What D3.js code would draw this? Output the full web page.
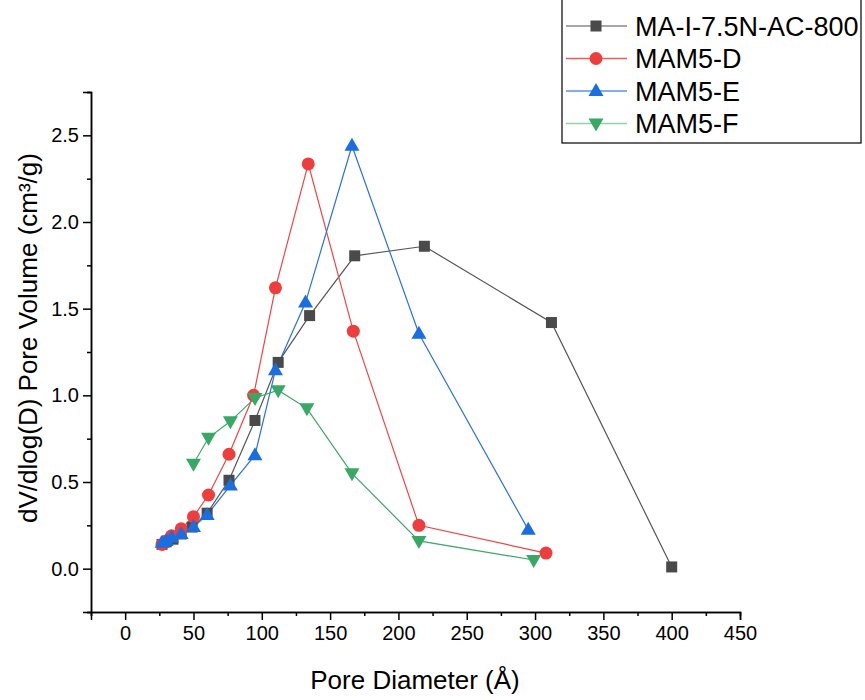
<!DOCTYPE html>
<html><head><meta charset="utf-8">
<script src="https://cdn.jsdelivr.net/npm/d3@7"></script>
<style>body{margin:0;background:#fff}svg text{font-family:"Liberation Sans",Arial,sans-serif}</style>
</head><body><svg id="c" width="865" height="700"></svg>
<script>
const seriesNames = ["MA-I-7.5N-AC-800","MAM5-D","MAM5-E","MAM5-F"];
const xA = [27,30,35,41,49,60,76,95,112,135,168,219,312,400];
const yA = [0.14,0.155,0.17,0.20,0.24,0.32,0.51,0.855,1.19,1.46,1.805,1.86,1.42,0.01];
const xD = [27,30,34,41,50,61,76,94,110,134,167,215,308];
const yD = [0.14,0.16,0.19,0.23,0.30,0.425,0.66,1.0,1.62,2.335,1.37,0.25,0.09];
const xE = [27,30,34,41,50,60,77,95,110,132,166,215,295];
const yE = [0.15,0.16,0.18,0.20,0.24,0.31,0.48,0.655,1.145,1.535,2.44,1.355,0.225];
const xF = [50,61,77,95,112,133,166,215,299];
const yF = [0.605,0.755,0.85,0.985,1.03,0.925,0.55,0.16,0.05];
const xTicks = [0,50,100,150,200,250,300,350,400,450];
const yTicks = [0,0.5,1.0,1.5,2.0,2.5];

const lineColors = ["#555555","#f04545","#2a72dd","#3aa86a"];
const markerColors = ["#4a4a4a","#ef3d3d","#1a6ee0","#37a866"];
const legendLineColors = ["#8a8a8a","#f25a5a","#5a93e6","#8fd3a8"];
const shapes = ["square","circle","up","down"];

const svg = d3.select("#c");
const x = d3.scaleLinear().domain([-25,450]).range([91,740]);
const y = d3.scaleLinear().domain([-0.25,2.75]).range([612,92]);

// axes
const xMinor = d3.range(-25,451,25);
const yMinor = d3.range(-0.25,2.76,0.25);
const gx = svg.append("g").attr("transform","translate(0,612)");
gx.call(d3.axisBottom(x).tickValues(xMinor.filter(v=>!xTicks.includes(v))).tickSize(4).tickFormat(""));
gx.append("g").call(d3.axisBottom(x).tickValues(xTicks).tickSize(8).tickPadding(6).tickFormat(d3.format("d")));
const gy = svg.append("g").attr("transform","translate(91,0)");
gy.call(d3.axisLeft(y).tickValues(yMinor.filter(v=>!yTicks.some(t=>Math.abs(t-v)<1e-6))).tickSize(4).tickFormat(""));
gy.append("g").call(d3.axisLeft(y).tickValues(yTicks).tickSize(8).tickPadding(4).tickFormat(d3.format(".1f")));
svg.selectAll(".domain").attr("stroke","#000").attr("stroke-width",1.5);
svg.selectAll(".tick line").attr("stroke","#000").attr("stroke-width",1.5);
svg.selectAll(".tick text").attr("font-size",20).attr("fill","#000").attr("font-family","Liberation Sans, Arial, sans-serif");

svg.append("text").attr("x",415).attr("y",689).attr("text-anchor","middle").attr("font-size",26).text("Pore Diameter (Å)");
svg.append("text").attr("transform","translate(37,338) rotate(-90)").attr("text-anchor","middle").attr("font-size",26).text("dV/dlog(D) Pore Volume (cm³/g)");

function marker(g, shape, color){
  if(shape==="square") g.append("rect").attr("x",-5.5).attr("y",-5.5).attr("width",11).attr("height",11).attr("fill",color);
  else if(shape==="circle") g.append("circle").attr("r",6.5).attr("fill",color);
  else if(shape==="up") g.append("path").attr("d","M0,-8L7.5,5L-7.5,5Z").attr("fill",color);
  else g.append("path").attr("d","M0,8L7.5,-5L-7.5,-5Z").attr("fill",color);
}

const data = [[xA,yA],[xD,yD],[xE,yE],[xF,yF]];
const line = d3.line().x(d=>x(d[0])).y(d=>y(d[1]));
data.forEach(([xs,ys],i)=>{
  const pts = xs.map((v,j)=>[v,ys[j]]);
  svg.append("path").datum(pts).attr("d",line).attr("fill","none").attr("stroke",lineColors[i]).attr("stroke-width",1.2);
});
data.forEach(([xs,ys],i)=>{
  const pts = xs.map((v,j)=>[v,ys[j]]);
  pts.forEach(p=>{
    const g = svg.append("g").attr("transform",`translate(${x(p[0])},${y(p[1])})`);
    marker(g,shapes[i],markerColors[i]);
  });
});

// legend
const lg = svg.append("g");
lg.append("rect").attr("x",562).attr("y",-1).attr("width",299).attr("height",144).attr("fill","#fff").attr("stroke","#000").attr("stroke-width",1.2);
seriesNames.forEach((n,i)=>{
  const yy = 26 + i*32.5;
  lg.append("line").attr("x1",566).attr("x2",627).attr("y1",yy).attr("y2",yy).attr("stroke",legendLineColors[i]).attr("stroke-width",1.5);
  const g = lg.append("g").attr("transform",`translate(596,${yy})`);
  marker(g,shapes[i],markerColors[i]);
  lg.append("text").attr("x",635).attr("y",yy+9.5).attr("font-size",27).text(n);
});
</script></body></html>
